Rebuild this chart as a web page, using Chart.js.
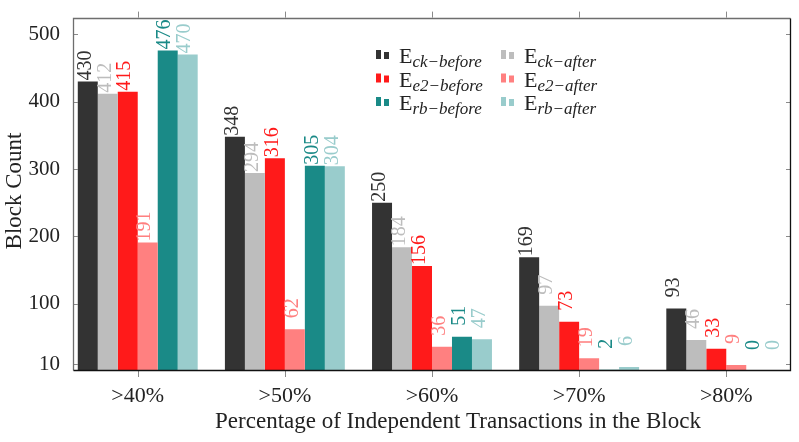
<!DOCTYPE html>
<html>
<head>
<meta charset="utf-8">
<script src="https://cdn.jsdelivr.net/npm/chart.js@4.4.1/dist/chart.umd.min.js"></script>
<style>
    html, body { margin: 0; padding: 0; background: #ffffff; }
    #wrap { width: 799px; height: 442px; }
</style>
</head>
<body>
<div id="wrap"><canvas id="chart" width="799" height="442"></canvas></div>
<script>
const categories = ['>40%', '>50%', '>60%', '>70%', '>80%'];

const ckBefore = [430, 348, 250, 169, 93];
const ckAfter = [412, 294, 184, 97, 46];
const e2Before = [415, 316, 156, 73, 33];
const e2After = [191, 62, 36, 19, 9];
const rbBefore = [476, 305, 51, 2, 0];
const rbAfter = [470, 304, 47, 6, 0];

const yTicks = [10, 100, 200, 300, 400, 500];

const xTitle = 'Percentage of Independent Transactions in the Block';
const yTitle = 'Block Count';

const SERIF = '"Liberation Serif", "DejaVu Serif", serif';

// bar order inside a group, legend is drawn in two columns (before / after)
const series = [
    { sub: 'ck\u2212before', values: ckBefore, color: '#333333' },
    { sub: 'ck\u2212after', values: ckAfter, color: '#bdbdbd' },
    { sub: 'e2\u2212before', values: e2Before, color: '#ff1a1a' },
    { sub: 'e2\u2212after', values: e2After, color: '#ff8080' },
    { sub: 'rb\u2212before', values: rbBefore, color: '#1a8a87' },
    { sub: 'rb\u2212after', values: rbAfter, color: '#99cccc' },
];

const framePlugin = {
    id: 'frame',
    afterDraw(chart) {
        const { ctx, chartArea: a } = chart;
        const x = chart.scales.x;
        const y = chart.scales.y;
        ctx.save();
        ctx.lineWidth = 1;

        // ticks
        ctx.strokeStyle = '#8a8a8a';
        ctx.beginPath();
        for (const v of yTicks) {
            const py = Math.round(y.getPixelForValue(v)) + 0.5;
            ctx.moveTo(a.left, py); ctx.lineTo(a.left + 5, py);
            ctx.moveTo(a.right, py); ctx.lineTo(a.right - 5, py);
        }
        categories.forEach((c, i) => {
            const px = Math.round(x.getPixelForValue(i)) + 0.5;
            ctx.moveTo(px, a.bottom); ctx.lineTo(px, a.bottom + 6);
            ctx.moveTo(px, a.top); ctx.lineTo(px, a.top - 6);
        });
        ctx.stroke();

        // box
        const l = Math.round(a.left) + 0.5, r = Math.round(a.right) - 0.5;
        const t = Math.round(a.top) + 0.5, b = Math.round(a.bottom) - 0.5;
        ctx.lineWidth = 1.3;
        ctx.strokeStyle = '#6e6e6e';
        ctx.beginPath();
        ctx.moveTo(l, b); ctx.lineTo(l, t); ctx.lineTo(r, t);
        ctx.stroke();
        ctx.strokeStyle = '#111111';
        ctx.beginPath();
        ctx.moveTo(r, t); ctx.lineTo(r, b); ctx.lineTo(l, b);
        ctx.stroke();

        // axis titles
        ctx.fillStyle = '#222222';
        ctx.font = '23px ' + SERIF;
        ctx.textAlign = 'center';
        ctx.textBaseline = 'middle';
        ctx.fillText(xTitle, 458, 422);
        ctx.translate(15, 191);
        ctx.rotate(-Math.PI / 2);
        ctx.fillText(yTitle, 0, 0);
        ctx.restore();
    }
};

const valueLabelPlugin = {
    id: 'valueLabels',
    afterDatasetsDraw(chart) {
        const ctx = chart.ctx;
        ctx.save();
        ctx.font = '20px ' + SERIF;
        ctx.textAlign = 'right';
        ctx.textBaseline = 'middle';
        chart.data.datasets.forEach((ds, di) => {
            const meta = chart.getDatasetMeta(di);
            meta.data.forEach((bar, i) => {
                ctx.save();
                ctx.fillStyle = series[di].color;
                ctx.translate(bar.x - 2.5, bar.y - 31);
                ctx.rotate(-Math.PI / 2);
                ctx.fillText(String(series[di].values[i]), 0, 0);
                ctx.restore();
            });
        });
        ctx.restore();
    }
};

const legendPlugin = {
    id: 'customLegend',
    afterDraw(chart) {
        const ctx = chart.ctx;
        const cols = [376, 501];
        const rows = [63, 86.5, 110];
        ctx.save();
        series.forEach((s, i) => {
            const cx = cols[i % 2];
            const by = rows[Math.floor(i / 2)];
            ctx.fillStyle = s.color;
            ctx.fillRect(cx, by - 13, 5, 9);
            ctx.fillRect(cx + 8, by - 11, 5, 7);
            ctx.fillStyle = '#222222';
            ctx.textAlign = 'left';
            ctx.textBaseline = 'alphabetic';
            ctx.font = '22px ' + SERIF;
            ctx.fillText('E', cx + 23, by);
            const w = ctx.measureText('E').width;
            ctx.font = 'italic 17px ' + SERIF;
            ctx.fillText(s.sub, cx + 23 + w, by + 4);
        });
        ctx.restore();
    }
};

const ctx = document.getElementById('chart').getContext('2d');
const chart = new Chart(ctx, {
    type: 'bar',
    data: {
        datasets: series.map(s => ({
            label: 'E' + s.sub,
            data: s.values.map((v, i) => ({ x: i, y: v })),
            backgroundColor: s.color,
            borderWidth: 0,
            categoryPercentage: 0.815,
            barPercentage: 1,
        }))
    },
    options: {
        responsive: false,
        animation: false,
        layout: { padding: { top: 12, right: 8, left: 0, bottom: 0 } },
        plugins: {
            legend: { display: false },
            tooltip: { enabled: false },
        },
        scales: {
            x: {
                type: 'linear',
                offset: false,
                min: -0.44,
                max: 4.44,
                afterBuildTicks: scale => {
                    scale.ticks = categories.map((c, i) => ({ value: i }));
                },
                afterFit: scale => { scale.height = 71; },
                ticks: {
                    autoSkip: false,
                    maxRotation: 0,
                    padding: 4,
                    color: '#222222',
                    font: { family: SERIF, size: 22 },
                    callback: v => categories[v],
                },
                grid: { display: false, offset: false },
                border: { display: false },
            },
            y: {
                min: 0,
                max: 525,
                afterBuildTicks: scale => {
                    scale.ticks = yTicks.map(v => ({ value: v }));
                },
                afterFit: scale => { scale.width = 73; },
                ticks: {
                    padding: 5,
                    color: '#222222',
                    font: { family: SERIF, size: 21 },
                },
                grid: { display: false },
                border: { display: false },
            }
        }
    },
    plugins: [valueLabelPlugin, framePlugin, legendPlugin]
});
</script>
</body>
</html>
